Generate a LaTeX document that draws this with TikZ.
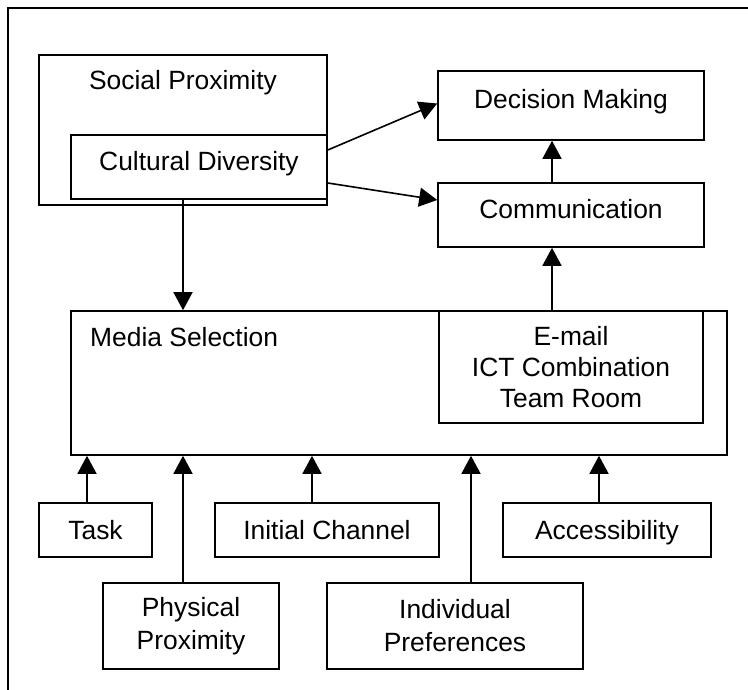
\documentclass[tikz,border=0pt]{standalone}
\usepackage{fontspec}
\setmainfont{Liberation Sans}
\usetikzlibrary{arrows.meta}

\begin{document}
\begin{tikzpicture}[
      x=1pt,y=-1pt,
      box/.style={draw,line width=1.6pt,inner sep=0pt,align=center,
        font=\fontsize{26.4}{31}\selectfont},
      lift/.style={text depth=13pt},
      tall/.style={font=\fontsize{26.4}{33}\selectfont},
      title/.style={inner sep=0pt,font=\fontsize{26.4}{31}\selectfont},
      arrow/.style={-{Triangle[length=18pt,width=19pt]},line width=1.6pt}
    ]
      \useasboundingbox (0,0) rectangle (748,690);
      \node[box,minimum width=780pt,minimum height=720pt,anchor=north west] (frame) at (7,7) {};

      % upper part
      \node[box,minimum width=288pt,minimum height=150pt] (social) at (183,130) {};
      \node[title,anchor=base] (socialtitle) at (183,90) {Social Proximity};
      \node[box,lift,minimum width=256pt,minimum height=64pt] (cultural) at (199,167) {Cultural Diversity};
      \node[box,lift,minimum width=266pt,minimum height=69pt] (decision) at (571,105.5) {Decision Making};
      \node[box,lift,minimum width=266pt,minimum height=64pt] (comm) at (571,215) {Communication};

      % media selection
      \node[box,minimum width=656pt,minimum height=144pt] (media) at (399,383) {};
      \node[title,anchor=base west] (mediatitle) at (90,346) {Media Selection};
      \node[box,minimum width=264pt,minimum height=112pt] (ict) at (571,367) {E-mail\\ICT Combination\\Team Room};

      % factors below
      \node[box,minimum width=113pt,minimum height=54pt] (task) at (95.5,530) {Task};
      \node[box,minimum width=224pt,minimum height=54pt] (initial) at (327,530) {Initial Channel};
      \node[box,text depth=0pt,minimum width=208pt,minimum height=54pt] (access) at (607,530) {Accessibility};
      \node[box,tall,minimum width=176pt,minimum height=86pt] (physical) at (191,626) {Physical\\Proximity};
      \node[box,tall,minimum width=256pt,minimum height=86pt] (individual) at (455,626) {Individual\\Preferences};

      \draw[arrow] ([yshift=17pt]cultural.east) -- ([yshift=2pt]decision.west);
      \draw[arrow] ([yshift=-16pt]cultural.east) -- ([yshift=15pt]comm.west);
      \draw[arrow] ([xshift=-19pt]comm.north) -- ([xshift=-19pt]decision.south);
      \draw[arrow] ([xshift=-19pt]ict.north) -- ([xshift=-19pt]comm.south);
      \draw[arrow] ([xshift=-16pt]cultural.south) -- ([xshift=-16pt]cultural.south |- media.north);

      \draw[arrow] ([xshift=-8.5pt]task.north) -- ([xshift=-8.5pt]task.north |- media.south);
      \draw[arrow] ([xshift=-8pt]physical.north) -- ([xshift=-8pt]physical.north |- media.south);
      \draw[arrow] ([xshift=-15pt]initial.north) -- ([xshift=-15pt]initial.north |- media.south);
      \draw[arrow] ([xshift=16pt]individual.north) -- ([xshift=16pt]individual.north |- media.south);
      \draw[arrow] ([xshift=-8pt]access.north) -- ([xshift=-8pt]access.north |- media.south);
    \end{tikzpicture}
\end{document}
